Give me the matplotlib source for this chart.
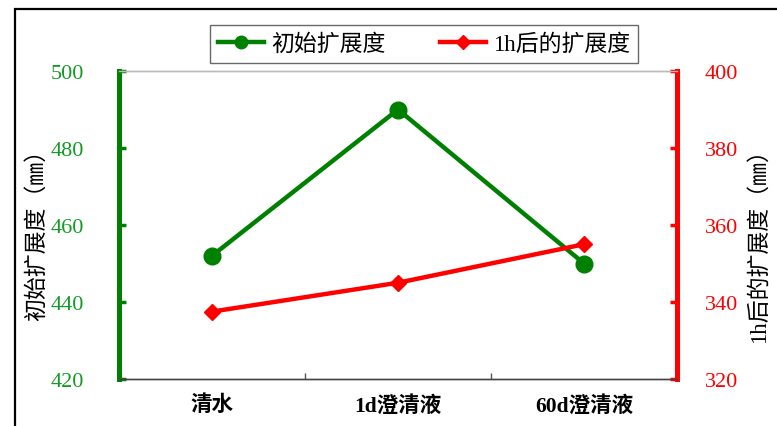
import numpy as np
import matplotlib.pyplot as plt
from matplotlib.patches import Rectangle
from matplotlib.lines import Line2D

plt.rcParams['font.family'] = ['Liberation Serif', 'Noto Sans CJK SC']

# 数据
categories = ['清水', '1d澄清液', '60d澄清液']
spread_initial = [452, 490, 450]   # 初始扩展度
spread_1h = [337.5, 345, 355]      # 1h后的扩展度

green = '#008000'
green_txt = '#139a26'
red = '#ff0000'

W, H = 777, 427
fig = plt.figure(figsize=(W / 100, H / 100), dpi=100)

# 外框
fig.patches.append(Rectangle((15 / W, -0.1), 1.2, 1 - 10 / H + 0.1,
                             transform=fig.transFigure, fill=False,
                             edgecolor='black', linewidth=1.6))

ax = fig.add_axes([119 / W, (H - 380) / H, (677 - 119) / W, (380 - 72) / H])
ax2 = ax.twinx()

x = np.arange(len(categories)) + 0.5

ax.plot(x, spread_initial, color=green, linewidth=3.2, marker='o',
        markersize=12, zorder=3)
ax2.plot(x, spread_1h, color=red, linewidth=3.2, marker='D',
         markersize=8, zorder=3)

ax.set_xlim(0, 3)
ax.set_ylim(420, 500)
ax2.set_ylim(320, 400)
ax.set_yticks(np.arange(420, 501, 20))
ax2.set_yticks(np.arange(320, 401, 20))

ax.set_xticks(x)
ax.set_xticklabels(categories, fontsize=15.5, fontweight='bold')
ax.set_xticks([1, 2], minor=True)
ax.tick_params(axis='x', which='major', length=0, pad=11)
ax.tick_params(axis='x', which='minor', direction='in', length=4,
               width=1, color='#555555')

ax.tick_params(axis='y', colors=green, labelcolor=green_txt, direction='in',
               length=5, width=2.5, labelsize=16, pad=25)
ax2.tick_params(axis='y', colors=red, labelcolor=red, direction='in',
                length=5, width=2.5, labelsize=16, pad=20)

for a in (ax, ax2):
    a.spines['top'].set_color('#bbbbbb')
    a.spines['top'].set_linewidth(1)
    a.spines['bottom'].set_color('#444444')
    a.spines['bottom'].set_linewidth(1)
    a.spines['left'].set_color(green)
    a.spines['left'].set_linewidth(3.5)
    a.spines['right'].set_color(red)
    a.spines['right'].set_linewidth(3.5)

ax.set_ylabel('初始扩展度（㎜）', fontsize=16.5)
ax.yaxis.set_label_coords(-0.127, 0.49)
ax2.set_ylabel('1h后的扩展度（㎜）', fontsize=16.5)
ax2.yaxis.set_label_coords(1.127, 0.455)

handles = [
    Line2D([], [], color=green, linewidth=3.2, marker='o', markersize=9),
    Line2D([], [], color=red, linewidth=3.2, marker='D', markersize=7),
]
fig.legend(handles, ['初始扩展度', '1h后的扩展度'], loc='center',
           bbox_to_anchor=(424 / W, 1 - 45 / H), ncol=2, fontsize=16.5,
           frameon=True, fancybox=False, edgecolor='#444444',
           handlelength=2.0, handletextpad=0.3, columnspacing=2.4,
           borderpad=0.35, borderaxespad=0)

fig.savefig('out.png', dpi=100)
